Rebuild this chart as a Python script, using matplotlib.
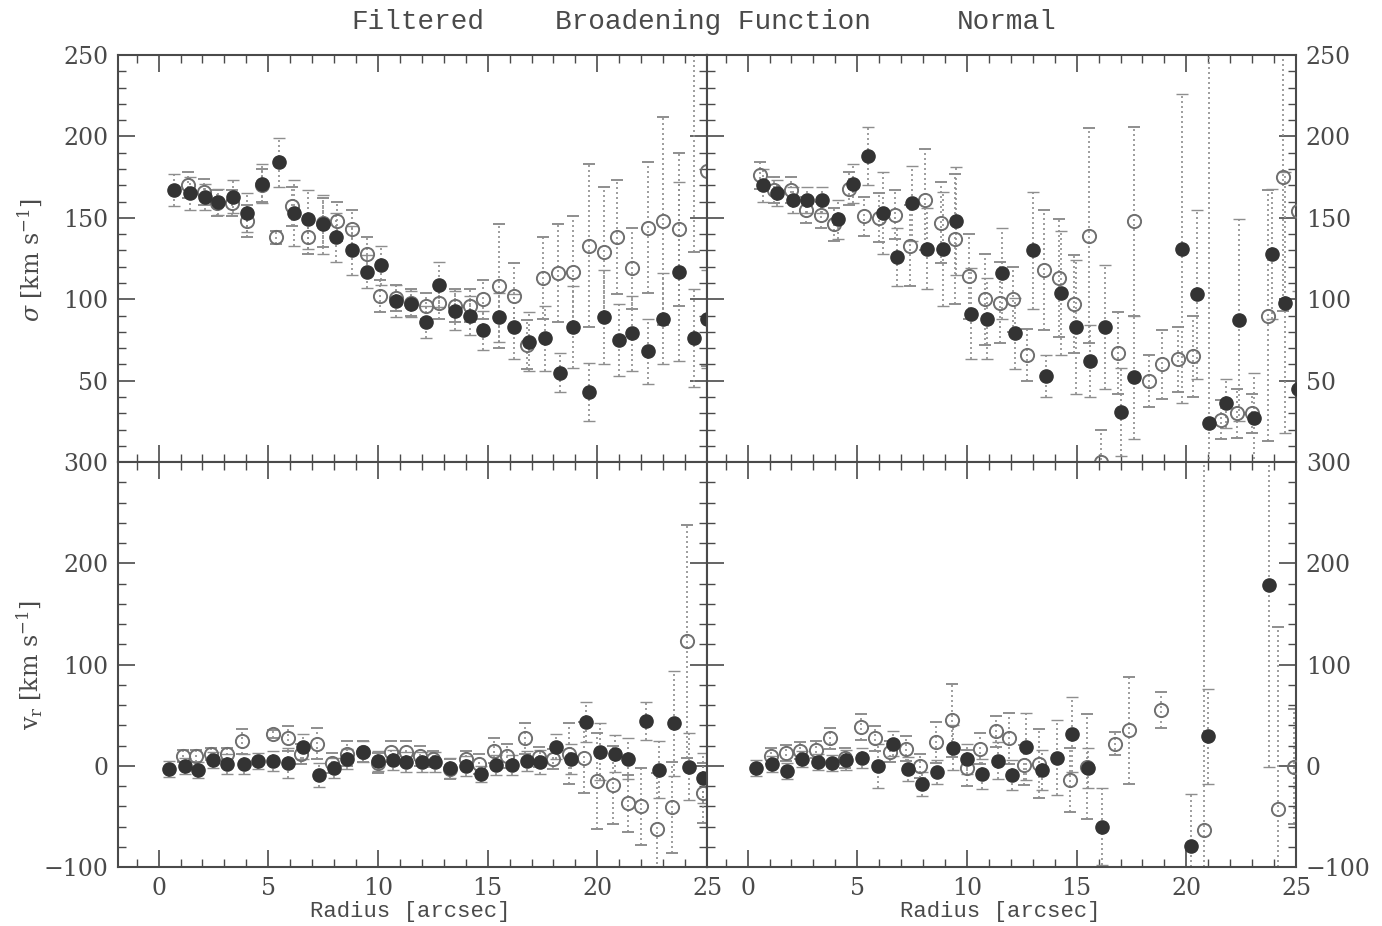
import matplotlib
matplotlib.use("Agg")
import matplotlib.pyplot as plt
from matplotlib.ticker import MultipleLocator, FuncFormatter

# ---------------- data ----------------
# Top-left: sigma, filtered
TL_F_R = [0.68,1.41,2.10,2.70,3.40,4.05,4.70,5.50,6.15,6.80,7.50,8.10,8.80,9.50,10.15,10.80,11.50,12.20,12.80,13.50,14.20,14.80,15.50,16.20,16.90,17.60,18.30,18.90,19.60,20.30,21.00,21.60,22.30,23.00,23.70,24.40,25.00]
TL_F_S = [167,165,163,160,163,153,171,184,153,149,146,138,130,117,121,99,97,86,109,93,90,81,89,83,74,76,55,83,43,89,75,79,68,88,117,76,88]
TL_F_E = [10,10,8,8,10,12,12,15,20,18,18,15,15,10,12,10,8,10,14,12,12,12,15,20,18,20,12,25,18,29,22,23,20,28,55,30,30]
TL_O_R = [1.36,2.05,2.65,3.35,4.05,4.70,5.35,6.10,6.80,7.50,8.15,8.80,9.50,10.10,10.80,11.50,12.20,12.80,13.50,14.20,14.80,15.50,16.20,16.80,17.50,18.20,18.90,19.60,20.30,20.90,21.60,22.30,23.00,23.70,24.40,25.00]
TL_O_S = [170,166,159,159,148,170,138,157,138,147,148,143,128,102,101,98,96,98,96,96,100,108,102,72,113,116,117,133,129,138,119,144,148,143,290,179]
TL_O_E = [8,8,8,8,10,10,4,12,10,15,12,12,10,10,8,8,8,10,10,10,12,38,20,15,25,30,34,50,40,35,25,40,64,47,161,120]

# Top-right: sigma, normal
TR_F_R = [0.69,1.33,2.06,2.70,3.40,4.10,4.80,5.50,6.15,6.80,7.50,8.20,8.90,9.50,10.20,10.90,11.60,12.20,13.00,13.60,14.30,14.95,15.60,16.30,17.00,17.60,19.80,20.50,21.05,21.80,22.40,23.10,23.90,24.50,25.10]
TR_F_S = [170,165,161,161,161,149,171,188,153,126,159,131,131,148,91,88,116,79,130,53,104,83,62,83,31,52,131,103,24,36,87,27,128,98,45]
TR_F_E = [10,8,8,8,8,12,12,18,25,18,23,25,35,33,28,25,28,22,36,13,38,41,22,38,27,38,95,52,240,15,62,28,40,80,60]
TR_O_R = [0.55,1.20,2.00,2.65,3.35,3.95,4.60,5.30,6.00,6.70,7.40,8.10,8.80,9.45,10.10,10.80,11.50,12.10,12.75,13.50,14.20,14.90,15.55,16.10,16.90,17.60,18.30,18.90,19.60,20.30,21.60,22.30,23.00,23.70,24.40,25.10]
TR_O_S = [176,167,167,155,152,146,168,151,150,152,133,161,147,137,114,100,98,100,66,118,113,97,139,0,67,148,50,60,63,65,26,30,30,90,175,154]
TR_O_E = [8,8,8,8,8,10,10,12,15,15,25,31,25,40,26,28,25,20,16,37,36,30,66,20,25,58,16,21,20,25,12,15,12,77,82,110]

# Bottom-left: v_r, filtered
BL_F_R = [0.46,1.20,1.80,2.50,3.10,3.90,4.55,5.20,5.90,6.60,7.30,8.00,8.60,9.30,10.00,10.70,11.30,12.00,12.60,13.30,14.00,14.70,15.40,16.10,16.80,17.40,18.10,18.80,19.50,20.10,20.80,21.40,22.20,22.80,23.50,24.20,24.80]
BL_F_V = [-3,0,-4,6,2,2,5,5,3,19,-9,-2,7,14,5,6,4,4,4,-2,0,-8,1,1,5,4,19,7,43,14,12,7,44,-4,42,-1,-12]
BL_F_E = [8,8,8,8,10,10,8,10,15,12,12,10,10,10,10,10,10,10,10,10,10,8,10,10,10,12,12,15,20,28,18,20,19,28,52,33,25]
BL_O_R = [1.10,1.70,2.40,3.10,3.80,5.20,5.90,6.50,7.20,7.90,8.60,9.30,10.00,10.60,11.30,11.90,12.50,13.30,14.00,14.60,15.30,15.90,16.70,17.35,18.00,18.70,19.40,20.00,20.70,21.40,22.00,22.70,23.40,24.10,24.80]
BL_O_V = [10,10,12,12,24,31,27,12,22,3,12,14,3,14,14,10,7,-3,7,2,15,10,27,9,7,12,8,-15,-19,-37,-40,-62,-41,123,-27]
BL_O_E = [6,6,6,6,12,4,12,10,15,10,12,10,10,10,10,10,8,10,8,10,12,12,15,10,10,30,35,47,39,28,38,55,45,115,30]

# Bottom-right: v_r, normal
BR_F_R = [0.40,1.10,1.80,2.50,3.20,3.85,4.50,5.20,5.95,6.65,7.30,7.95,8.65,9.35,10.00,10.70,11.40,12.05,12.70,13.40,14.10,14.80,15.50,16.15,20.20,21.00,23.75]
BR_F_V = [-2,2,-5,7,4,3,6,8,0,22,-3,-18,-6,18,7,-8,5,-9,19,-4,8,31,-2,-60,-79,29,179]
BR_F_E = [8,8,8,8,8,8,10,10,22,12,12,12,12,22,15,15,18,15,33,20,37,37,20,38,51,47,180]
BR_O_R = [1.05,1.75,2.40,3.10,3.75,4.45,5.15,5.80,6.50,7.20,7.85,8.60,9.30,10.00,10.60,11.30,11.90,12.60,13.30,14.70,15.45,16.75,17.40,18.85,20.80,24.20,24.90]
BR_O_V = [10,13,15,16,27,8,38,27,14,17,0,23,45,-2,17,34,27,1,2,-14,-1,22,35,55,-63,-43,-1]
BR_O_E = [8,8,8,8,10,10,13,12,10,12,12,20,36,18,15,15,25,20,34,32,52,11,53,18,400,180,57]

TITLE_PARTS = ["Filtered", "Broadening Function", "Normal"]
XLABEL = "Radius [arcsec]"
YLABEL_TOP = r"$\sigma$ [km s$^{-1}$]"
YLABEL_BOT = r"v$_{\rm r}$ [km s$^{-1}$]"

# ---------------- style ----------------
plt.rcParams["font.family"] = ["DejaVu Serif"]
plt.rcParams["mathtext.fontset"] = "dejavuserif"
INK = "#4a4a4a"
FILL = "#333333"
OPEN_EDGE = "#6f6f6f"
BAR = "#8e8e8e"

fig = plt.figure(figsize=(13.82, 9.26), dpi=100)
L, M, R = 0.0854, 0.5116, 0.9378
B, MID, T = 0.0637, 0.5010, 0.9406

ax_tl = fig.add_axes([L, MID, M - L, T - MID])
ax_tr = fig.add_axes([M, MID, R - M, T - MID])
ax_bl = fig.add_axes([L, B, M - L, MID - B])
ax_br = fig.add_axes([M, B, R - M, MID - B])


def draw(ax, r, y, e, filled):
    if filled:
        kw = dict(fmt="o", ms=9.5, mfc=FILL, mec=FILL, mew=1.0, zorder=4)
    else:
        kw = dict(fmt="o", ms=9.5, mfc="none", mec=OPEN_EDGE, mew=1.4, zorder=3)
    line, caps, bars = ax.errorbar(r, y, yerr=e, ecolor=BAR, elinewidth=1.2,
                                   capsize=4, capthick=0.9, **kw)
    for b in bars:
        b.set_linestyle((0, (1.2, 1.8)))
        b.set_zorder(2)
    for c in caps:
        c.set_zorder(2)
        c.set_color("#a0a0a0")


draw(ax_tl, TL_O_R, TL_O_S, TL_O_E, False)
draw(ax_tl, TL_F_R, TL_F_S, TL_F_E, True)
draw(ax_tr, TR_O_R, TR_O_S, TR_O_E, False)
draw(ax_tr, TR_F_R, TR_F_S, TR_F_E, True)
draw(ax_bl, BL_O_R, BL_O_V, BL_O_E, False)
draw(ax_bl, BL_F_R, BL_F_V, BL_F_E, True)
draw(ax_br, BR_O_R, BR_O_V, BR_O_E, False)
draw(ax_br, BR_F_R, BR_F_V, BR_F_E, True)

for ax in (ax_tl, ax_tr, ax_bl, ax_br):
    ax.set_xlim(-1.85, 25.0)
    ax.xaxis.set_major_locator(MultipleLocator(5))
    ax.xaxis.set_minor_locator(MultipleLocator(1))
    ax.tick_params(which="both", direction="in", top=True, bottom=True,
                   left=True, right=True, colors=INK, labelsize=17)
    ax.tick_params(which="major", length=12, width=1.2, pad=7)
    ax.tick_params(which="minor", length=6, width=1.0)
    for s in ax.spines.values():
        s.set_color(INK)
        s.set_linewidth(1.5)

for ax in (ax_tl, ax_tr):
    ax.set_ylim(0, 250)
    ax.yaxis.set_major_locator(MultipleLocator(50))
    ax.yaxis.set_minor_locator(MultipleLocator(10))
    ax.tick_params(labelbottom=False)
    ax.yaxis.set_major_formatter(FuncFormatter(lambda v, p: "" if abs(v) < 1e-6 else f"{v:.0f}"))

for ax in (ax_bl, ax_br):
    ax.set_ylim(-100, 300)
    ax.yaxis.set_major_locator(MultipleLocator(100))
    ax.yaxis.set_minor_locator(MultipleLocator(20))
    ax.yaxis.set_major_formatter(FuncFormatter(lambda v, p: f"{v:.0f}".replace("-", "\u2212")))

for ax in (ax_tr, ax_br):
    ax.tick_params(labelleft=False, labelright=True)

# axis labels and title
fig.text(30 / 1382, 1 - 260 / 926, YLABEL_TOP, rotation=90, ha="center", va="center",
         fontsize=17, color=INK)
fig.text(30 / 1382, 1 - 665 / 926, YLABEL_BOT, rotation=90, ha="center", va="center",
         fontsize=17, color=INK)
fig.text(410 / 1382, 1 - 912 / 926, XLABEL, ha="center", va="center", fontsize=16,
         color=INK, family=["Liberation Mono", "DejaVu Sans Mono"])
fig.text(1000 / 1382, 1 - 912 / 926, XLABEL, ha="center", va="center", fontsize=16,
         color=INK, family=["Liberation Mono", "DejaVu Sans Mono"])
for txt, xc in zip(TITLE_PARTS, [418, 713, 1007]):
    fig.text(xc / 1382, 1 - 22 / 926, txt, ha="center", va="center", fontsize=20,
             color=INK, family=["Liberation Mono", "DejaVu Sans Mono"])

fig.savefig("out.png", dpi=100, facecolor="white")
